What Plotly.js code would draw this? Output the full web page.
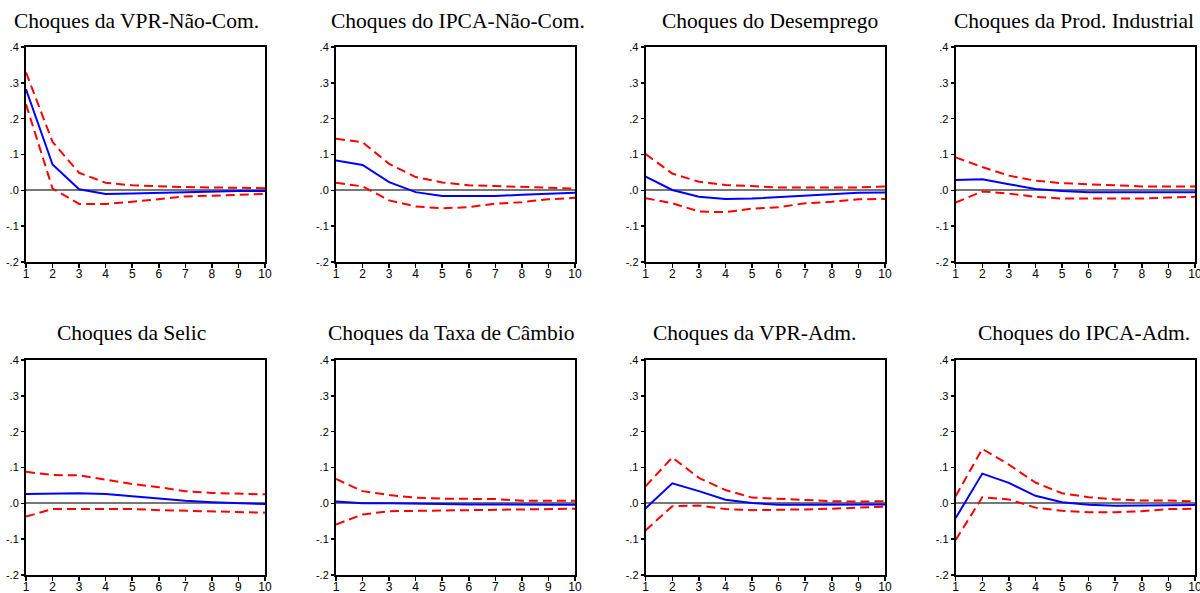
<!DOCTYPE html>
<html>
<head>
<meta charset="utf-8">
<script src="https://cdn.plot.ly/plotly-3.0.1.min.js"></script>
<style>html,body{margin:0;padding:0;background:#fff;}#chart{width:1200px;height:593px;}</style>
</head>
<body>
<div id="chart"></div>
<script>
const periods = [1,2,3,4,5,6,7,8,9,10];
const titles = [
  "Choques da VPR-Não-Com.", "Choques do IPCA-Não-Com.", "Choques do Desemprego", "Choques da Prod. Industrial",
  "Choques da Selic", "Choques da Taxa de Câmbio", "Choques da VPR-Adm.", "Choques do IPCA-Adm."
];
const yTickVals = [0.4, 0.3, 0.2, 0.1, 0.0, -0.1, -0.2];
const yTickText = [".4", ".3", ".2", ".1", ".0", "-.1", "-.2"];

// response, upper band, lower band for each shock
const vprNaoCom     = [0.282, 0.072, 0.003, -0.010, -0.009, -0.007, -0.005, -0.003, -0.002, -0.002];
const vprNaoComUp   = [0.329, 0.135, 0.049, 0.021, 0.014, 0.011, 0.009, 0.008, 0.007, 0.006];
const vprNaoComLo   = [0.240, 0.005, -0.038, -0.038, -0.032, -0.024, -0.017, -0.015, -0.012, -0.010];

const ipcaNaoCom    = [0.083, 0.071, 0.023, -0.005, -0.016, -0.016, -0.016, -0.012, -0.009, -0.007];
const ipcaNaoComUp  = [0.144, 0.134, 0.074, 0.037, 0.022, 0.014, 0.012, 0.009, 0.006, 0.005];
const ipcaNaoComLo  = [0.021, 0.011, -0.028, -0.045, -0.050, -0.047, -0.037, -0.033, -0.025, -0.021];

const desemprego    = [0.038, 0.001, -0.018, -0.024, -0.023, -0.019, -0.014, -0.009, -0.007, -0.006];
const desempregoUp  = [0.101, 0.047, 0.024, 0.015, 0.012, 0.008, 0.008, 0.008, 0.008, 0.011];
const desempregoLo  = [-0.022, -0.036, -0.059, -0.061, -0.051, -0.047, -0.036, -0.032, -0.025, -0.024];

const prodInd       = [0.029, 0.031, 0.017, 0.004, -0.002, -0.005, -0.005, -0.005, -0.005, -0.005];
const prodIndUp     = [0.092, 0.065, 0.041, 0.027, 0.020, 0.017, 0.016, 0.011, 0.011, 0.011];
const prodIndLo     = [-0.034, -0.003, -0.009, -0.018, -0.023, -0.023, -0.023, -0.023, -0.020, -0.018];

const selic         = [0.026, 0.028, 0.028, 0.026, 0.019, 0.013, 0.007, 0.003, 0.001, -0.002];
const selicUp       = [0.088, 0.079, 0.078, 0.066, 0.054, 0.045, 0.034, 0.029, 0.026, 0.025];
const selicLo       = [-0.037, -0.016, -0.016, -0.016, -0.016, -0.019, -0.021, -0.021, -0.025, -0.026];

const cambio        = [0.005, 0.000, 0.000, -0.002, -0.002, -0.003, -0.004, -0.004, -0.004, -0.004];
const cambioUp      = [0.068, 0.034, 0.023, 0.016, 0.013, 0.013, 0.012, 0.007, 0.007, 0.007];
const cambioLo      = [-0.059, -0.031, -0.022, -0.021, -0.019, -0.018, -0.018, -0.016, -0.015, -0.015];

const vprAdm        = [-0.014, 0.056, 0.034, 0.010, 0.001, -0.004, -0.004, -0.004, -0.004, -0.003];
const vprAdmUp      = [0.048, 0.128, 0.071, 0.037, 0.016, 0.013, 0.008, 0.006, 0.005, 0.006];
const vprAdmLo      = [-0.075, -0.008, -0.006, -0.016, -0.019, -0.019, -0.017, -0.015, -0.013, -0.009];

const ipcaAdm       = [-0.041, 0.083, 0.057, 0.021, 0.003, -0.004, -0.007, -0.007, -0.006, -0.005];
const ipcaAdmUp     = [0.020, 0.152, 0.108, 0.058, 0.028, 0.017, 0.011, 0.008, 0.008, 0.005];
const ipcaAdmLo     = [-0.102, 0.017, 0.011, -0.012, -0.021, -0.025, -0.025, -0.022, -0.016, -0.015];

const panels = [
  [vprNaoCom, vprNaoComUp, vprNaoComLo],
  [ipcaNaoCom, ipcaNaoComUp, ipcaNaoComLo],
  [desemprego, desempregoUp, desempregoLo],
  [prodInd, prodIndUp, prodIndLo],
  [selic, selicUp, selicLo],
  [cambio, cambioUp, cambioLo],
  [vprAdm, vprAdmUp, vprAdmLo],
  [ipcaAdm, ipcaAdmUp, ipcaAdmLo]
];

// layout geometry (pixels)
const W = 1200, H = 593;
const colPx = [[26, 265], [336, 575], [645.7, 885], [955.7, 1195]];
const rowPx = [[47, 262], [360, 575]];
const titleX = [136.7, 458, 769.5, 1074, 131, 451.7, 754, 1084];
const titleY = [21, 333];

const traces = [];
const layout = {
  width: W, height: H,
  margin: {l: 0, r: 0, t: 0, b: 0},
  paper_bgcolor: '#fff', plot_bgcolor: '#fff',
  showlegend: false,
  font: {family: 'Liberation Sans, Arial, sans-serif', size: 11, color: '#000'},
  annotations: []
};

panels.forEach((p, i) => {
  const r = Math.floor(i / 4), c = i % 4;
  const n = i + 1;
  const xa = 'x' + (n === 1 ? '' : n), ya = 'y' + (n === 1 ? '' : n);
  const styles = [
    {color: '#0000ff', width: 2, dash: 'solid'},
    {color: '#ff0000', width: 2, dash: '9px,5px'},
    {color: '#ff0000', width: 2, dash: '9px,5px'}
  ];
  [1, 2, 0].forEach(k => {
    traces.push({x: periods, y: p[k], xaxis: xa, yaxis: ya, type: 'scatter', mode: 'lines',
      line: styles[k], hoverinfo: 'skip'});
  });
  const xkey = 'xaxis' + (n === 1 ? '' : n), ykey = 'yaxis' + (n === 1 ? '' : n);
  layout[xkey] = {
    domain: [colPx[c][0] / W, colPx[c][1] / W],
    anchor: ya, range: [1, 10], tickvals: periods, ticktext: periods.map(String),
    showgrid: false, zeroline: false, showline: true, linecolor: '#000', linewidth: 2, mirror: true,
    ticks: 'outside', ticklen: 4, tickcolor: '#000', tickwidth: 1.5,
    ticklabeloverflow: 'allow', ticklabelstandoff: -4,
    tickfont: {family: 'Liberation Sans, Arial, sans-serif', size: 12, color: '#000'}, fixedrange: true
  };
  layout[ykey] = {
    domain: [1 - rowPx[r][1] / H, 1 - rowPx[r][0] / H],
    anchor: xa, range: [-0.2, 0.4], tickvals: yTickVals, ticktext: yTickText,
    showgrid: false, zeroline: true, zerolinecolor: '#777777', zerolinewidth: 2,
    showline: true, linecolor: '#000', linewidth: 2, mirror: true,
    ticks: 'outside', ticklen: 3, tickcolor: '#000', tickwidth: 1.5,
    ticklabeloverflow: 'allow', ticklabelstandoff: 0,
    tickfont: {family: 'Liberation Sans, Arial, sans-serif', size: 11, color: '#000'}, fixedrange: true
  };
  layout.annotations.push({
    text: titles[i], xref: 'paper', yref: 'paper',
    x: titleX[i] / W, y: 1 - titleY[r] / H, xanchor: 'center', yanchor: 'middle',
    showarrow: false, font: {family: 'Liberation Serif, Times New Roman, serif', size: 21.5, color: '#000'}
  });
});

Plotly.newPlot('chart', traces, layout, {staticPlot: true, displayModeBar: false});
</script>
</body>
</html>
